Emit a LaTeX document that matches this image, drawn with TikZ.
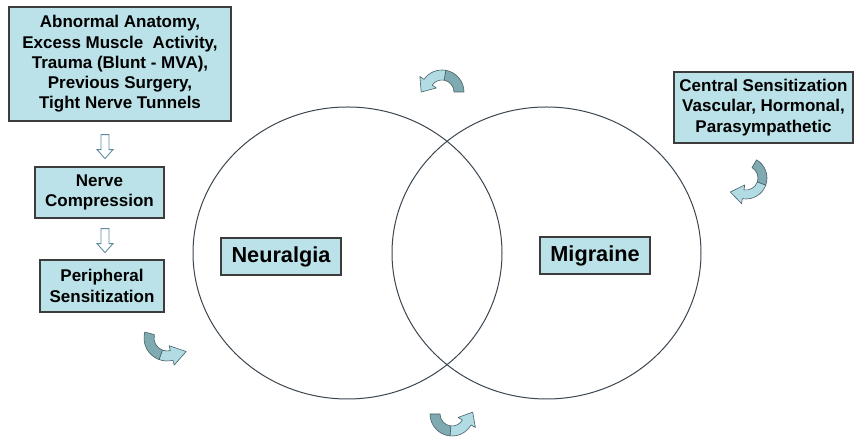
\documentclass[tikz,border=0pt]{standalone}
\usepackage{fontspec}
\setmainfont{Liberation Sans}
\usetikzlibrary{calc,shapes.geometric}
\definecolor{boxfill}{RGB}{187,226,232}
\definecolor{boxline}{RGB}{60,60,60}
\definecolor{circline}{RGB}{60,70,80}
\definecolor{arrdark}{RGB}{128,170,178}
\definecolor{arrlight}{RGB}{178,220,228}
\definecolor{arrline}{RGB}{70,95,100}
\definecolor{hollowline}{RGB}{95,140,160}
% curved block arrow: cx, cy, rin, rout, start, split, end, head direction offset (90 / -90), head length
\newcommand{\cArrow}[9]{%
  \path[draw=arrline, line width=0.6pt, fill=arrdark, line join=round]
    ($(#1,#2)+(#5:#4)$) arc[start angle=#5, end angle=#6, radius=#4]
    -- ($(#1,#2)+(#6:#3)$) arc[start angle=#6, end angle=#5, radius=#3] -- cycle;
  \path[draw=arrline, line width=0.6pt, fill=arrlight, line join=round]
    ($(#1,#2)+(#6:#4)$) arc[start angle=#6, end angle=#7, radius=#4]
    -- ($(#1,#2)+(#7:{#4+5})$)
    -- ($(#1,#2)+(#7:{(#3+#4)/2})+({#7+(#8)}:#9)$)
    -- ($(#1,#2)+(#7:{#3-5})$)
    -- ($(#1,#2)+(#7:#3)$) arc[start angle=#7, end angle=#6, radius=#3] -- cycle;
}
% hollow down block arrow starting at a named coordinate (top centre)
\newcommand{\hArrow}[1]{%
  \path[hollow] ($(#1)+(-4,0)$) -- ++(0,-15) -- ++(-4,0) -- ($(#1)+(0,-24)$)
    -- ($(#1)+(8,-15)$) -- ++(-4,0) -- ($(#1)+(4,0)$) -- cycle;
}
\tikzset{
  box/.style={draw=boxline, line width=1.2pt, fill=boxfill, inner sep=0pt, align=center,
    font=\fontsize{17}{20.3}\selectfont\bfseries},
  bigbox/.style={box, font=\fontsize{21.7}{26}\selectfont\bfseries},
  circ/.style={draw=circline, line width=1pt, ellipse, inner sep=0pt},
  hollow/.style={draw=hollowline, line width=0.9pt, fill=white, line join=miter}
}
\begin{document}
\begin{tikzpicture}[x=1pt,y=1pt]
\useasboundingbox (0,0) rectangle (855,438);
\fill[white] (0,0) rectangle (855,438);
% circles
\node[circ, minimum width=309pt, minimum height=292pt] (circL) at (347.5,185) {};
\node[circ, minimum width=309pt, minimum height=292pt] (circR) at (546.5,185) {};
% boxes
\node[box, minimum width=222pt, minimum height=114pt] (causes) at (120,374)
  {Abnormal Anatomy,\\Excess Muscle\ \ Activity,\\Trauma (Blunt - MVA),\\Previous Surgery,\\Tight Nerve Tunnels};
\node[box, minimum width=129pt, minimum height=51pt] (nerve) at (99.5,245.5)
  {Nerve\\Compression};
\node[box, minimum width=124pt, minimum height=52pt] (periph) at (102,152)
  {Peripheral\\Sensitization};
\node[box, minimum width=179pt, minimum height=71pt] (central) at (763.5,330.5)
  {Central Sensitization\\Vascular, Hormonal,\\Parasympathetic};
\node[bigbox, minimum width=120pt, minimum height=37pt] (neur) at (281,181.5) {Neuralgia};
\node[bigbox, minimum width=110pt, minimum height=37pt] (migr) at (595,182.5) {Migraine};
% hollow down arrows between boxes
\coordinate (d1) at ($(105,0 |- causes.south)+(0,-13)$);
\coordinate (d2) at ($(105,0 |- nerve.south)+(0,-10)$);
\hArrow{d1}
\hArrow{d2}
% curved arrows
\cArrow{442}{346}{12}{22}{0}{80}{145}{90}{12}
\cArrow{746}{260}{12}{21}{60}{-20}{-100}{-90}{13}
\cArrow{167}{100}{13}{23}{165}{250}{285}{90}{15}
\cArrow{452}{24}{12}{22}{180}{265}{330}{90}{12}
\end{tikzpicture}
\end{document}
